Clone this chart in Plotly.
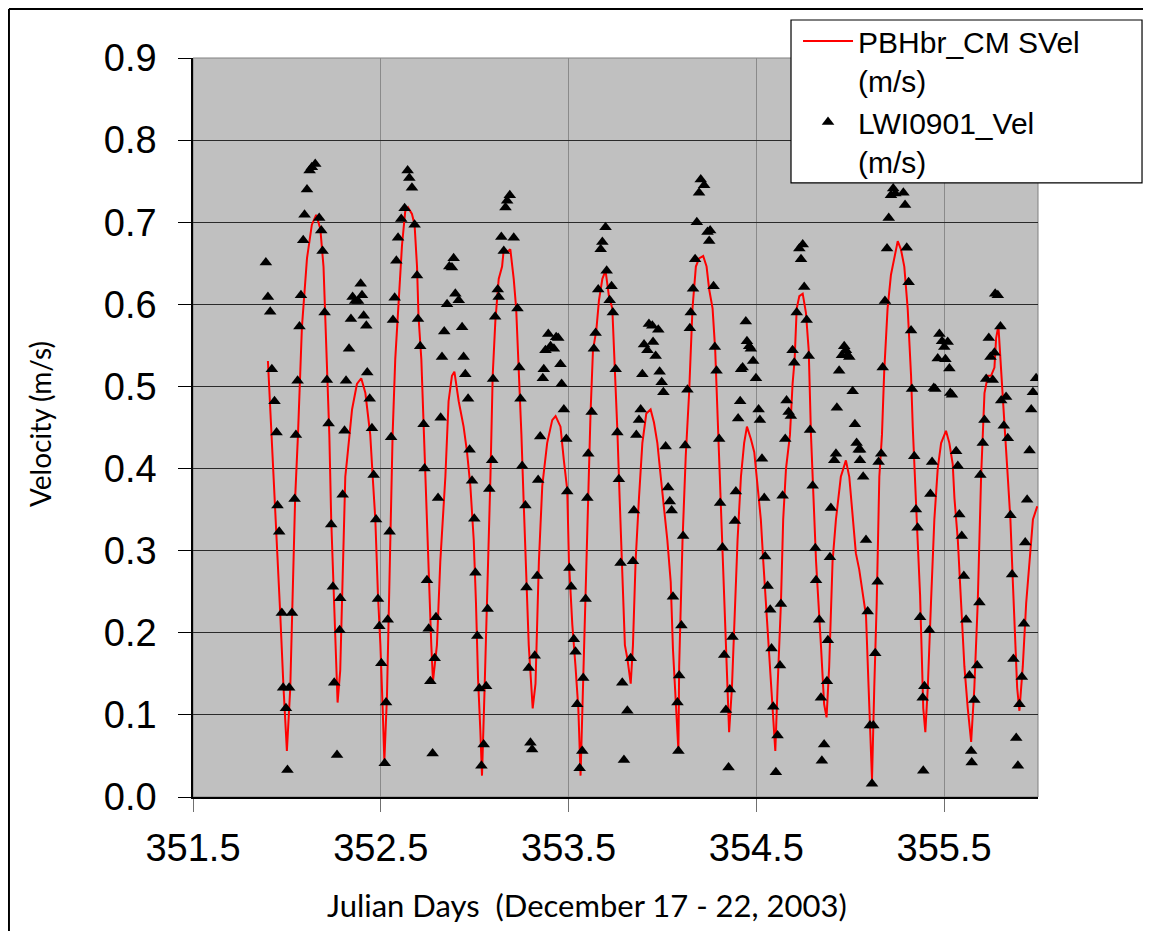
import plotly.graph_objects as go

# ---- data ----
line_day = [351.899, 351.938, 351.964, 351.982, 352.000, 352.018, 352.030, 352.044, 352.059, 352.080,
            352.107, 352.133, 352.156, 352.178, 352.195, 352.204, 352.213, 352.226, 352.236, 352.249,
            352.261, 352.270, 352.284, 352.297, 352.311, 352.320, 352.347, 352.373, 352.396, 352.418,
            352.444, 352.457, 352.471, 352.485, 352.498, 352.510, 352.519, 352.533, 352.551, 352.563,
            352.577, 352.595, 352.613, 352.630, 352.645, 352.666, 352.680, 352.693, 352.701, 352.716,
            352.728, 352.741, 352.755, 352.769, 352.778, 352.787, 352.799, 352.817, 352.844, 352.861,
            352.879, 352.892, 352.915, 352.941, 352.959, 352.977, 352.995, 353.007, 353.018, 353.030,
            353.039, 353.053, 353.066, 353.084, 353.096, 353.110, 353.128, 353.146, 353.155, 353.173,
            353.190, 353.208, 353.221, 353.235, 353.249, 353.261, 353.274, 353.288, 353.309, 353.324,
            353.342, 353.360, 353.386, 353.413, 353.431, 353.457, 353.475, 353.493, 353.502, 353.520,
            353.537, 353.552, 353.564, 353.576, 353.591, 353.603, 353.617, 353.630, 353.648, 353.662,
            353.680, 353.697, 353.715, 353.733, 353.747, 353.760, 353.772, 353.786, 353.800, 353.813,
            353.831, 353.843, 353.857, 353.875, 353.893, 353.914, 353.937, 353.955, 353.973, 353.991,
            354.008, 354.026, 354.044, 354.056, 354.085, 354.089, 354.107, 354.124, 354.142, 354.160,
            354.178, 354.195, 354.217, 354.235, 354.249, 354.267, 354.281, 354.293, 354.306, 354.320,
            354.334, 354.347, 354.355, 354.370, 354.382, 354.400, 354.418, 354.435, 354.450, 354.471,
            354.489, 354.507, 354.524, 354.537, 354.551, 354.569, 354.587, 354.601, 354.613, 354.631,
            354.643, 354.658, 354.679, 354.693, 354.704, 354.715, 354.729, 354.747, 354.764, 354.779,
            354.791, 354.803, 354.818, 354.844, 354.861, 354.874, 354.888, 354.906, 354.924, 354.950,
            354.977, 354.995, 355.013, 355.030, 355.048, 355.066, 355.084, 355.098, 355.110, 355.116,
            355.128, 355.141, 355.155, 355.169, 355.181, 355.199, 355.217, 355.235, 355.253, 355.270,
            355.288, 355.306, 355.324, 355.333, 355.347, 355.359, 355.372, 355.382, 355.389, 355.400,
            355.413, 355.430, 355.448, 355.466, 355.484, 355.510, 355.528, 355.546, 355.555, 355.573,
            355.590, 355.608, 355.626, 355.644, 355.661, 355.679, 355.697, 355.715, 355.733, 355.750,
            355.768, 355.777, 355.789, 355.804, 355.813, 355.825, 355.839, 355.853, 355.866, 355.878,
            355.889, 355.901, 355.919, 355.937, 355.955, 355.973, 355.996]
line_vel = [0.531, 0.354, 0.226, 0.133, 0.056, 0.133, 0.226, 0.364, 0.441, 0.572,
            0.656, 0.697, 0.709, 0.692, 0.646, 0.585, 0.508, 0.441, 0.338, 0.256,
            0.159, 0.115, 0.154, 0.287, 0.390, 0.410, 0.472, 0.503, 0.510, 0.492,
            0.441, 0.390, 0.338, 0.246, 0.185, 0.108, 0.044, 0.123, 0.323, 0.441,
            0.533, 0.605, 0.672, 0.713, 0.718, 0.710, 0.697, 0.646, 0.585, 0.533,
            0.451, 0.364, 0.262, 0.185, 0.141, 0.159, 0.185, 0.287, 0.390, 0.482,
            0.513, 0.518, 0.482, 0.451, 0.421, 0.379, 0.313, 0.236, 0.144, 0.082,
            0.026, 0.133, 0.236, 0.390, 0.513, 0.579, 0.631, 0.646, 0.667, 0.664,
            0.667, 0.631, 0.595, 0.523, 0.441, 0.359, 0.262, 0.185, 0.108, 0.138,
            0.287, 0.379, 0.431, 0.459, 0.464, 0.451, 0.410, 0.374, 0.287, 0.210,
            0.159, 0.108, 0.026, 0.133, 0.236, 0.364, 0.467, 0.544, 0.569, 0.605,
            0.631, 0.641, 0.610, 0.595, 0.523, 0.446, 0.364, 0.262, 0.185, 0.169,
            0.138, 0.185, 0.287, 0.364, 0.431, 0.467, 0.472, 0.456, 0.431, 0.390,
            0.354, 0.313, 0.262, 0.180, 0.056, 0.159, 0.313, 0.415, 0.492, 0.595,
            0.646, 0.656, 0.659, 0.646, 0.618, 0.595, 0.544, 0.467, 0.390, 0.297,
            0.210, 0.123, 0.079, 0.133, 0.210, 0.313, 0.390, 0.431, 0.451, 0.436,
            0.420, 0.379, 0.338, 0.287, 0.236, 0.169, 0.108, 0.056, 0.133, 0.236,
            0.338, 0.400, 0.441, 0.503, 0.533, 0.595, 0.610, 0.613, 0.590, 0.544,
            0.441, 0.364, 0.287, 0.185, 0.113, 0.097, 0.159, 0.287, 0.338, 0.390,
            0.410, 0.390, 0.338, 0.297, 0.277, 0.251, 0.221, 0.133, 0.056, 0.021,
            0.133, 0.236, 0.390, 0.441, 0.518, 0.595, 0.636, 0.656, 0.677, 0.667,
            0.646, 0.595, 0.513, 0.451, 0.364, 0.313, 0.246, 0.159, 0.108, 0.079,
            0.133, 0.236, 0.338, 0.400, 0.431, 0.446, 0.431, 0.405, 0.364, 0.313,
            0.236, 0.159, 0.108, 0.067, 0.133, 0.236, 0.390, 0.492, 0.513, 0.513,
            0.523, 0.559, 0.574, 0.513, 0.492, 0.441, 0.390, 0.338, 0.262, 0.185,
            0.133, 0.105, 0.159, 0.236, 0.287, 0.338, 0.354]

obs_day = [351.888, 351.899, 351.911, 351.920, 351.934, 351.945, 351.950, 351.959, 351.973, 351.980,
           351.995, 352.003, 352.012, 352.027, 352.041, 352.048, 352.057, 352.067, 352.075, 352.087,
           352.094, 352.107, 352.121, 352.133, 352.151, 352.172, 352.183, 352.190, 352.201, 352.213,
           352.222, 352.236, 352.245, 352.252, 352.267, 352.284, 352.281, 352.297, 352.307, 352.315,
           352.331, 352.341, 352.350, 352.364, 352.379, 352.393, 352.400, 352.409, 352.423, 352.428,
           352.441, 352.453, 352.462, 352.475, 352.485, 352.492, 352.503, 352.521, 352.528, 352.537,
           352.547, 352.555, 352.565, 352.574, 352.583, 352.592,
           352.609, 352.627, 352.643, 352.652, 352.666, 352.680, 352.693, 352.698, 352.710, 352.728,
           352.733, 352.746, 352.755, 352.764, 352.776, 352.787, 352.794, 352.805, 352.819, 352.826,
           352.838, 352.853, 352.865, 352.888, 352.879, 352.897, 352.915, 352.933, 352.941, 352.950,
           352.965, 352.973, 352.986, 352.998, 353.004, 353.014, 353.025, 353.036, 353.048, 353.061,
           353.069, 353.078, 353.093, 353.098, 353.109, 353.123, 353.128, 353.142, 353.155, 353.164,
           353.173, 353.187, 353.208, 353.228, 353.237, 353.244, 353.253, 353.270, 353.276, 353.288,
           353.297, 353.306, 353.320,
           353.333, 353.338, 353.349, 353.363, 353.368, 353.377, 353.392, 353.404, 353.422, 353.434,
           353.445, 353.457, 353.463, 353.475, 353.488, 353.493, 353.505, 353.514, 353.528, 353.537,
           353.546, 353.559, 353.573, 353.578, 353.591, 353.600, 353.605, 353.623, 353.635, 353.644,
           353.658, 353.671, 353.680, 353.697, 353.703, 353.719, 353.729, 353.736, 353.751, 353.760,
           353.768, 353.777, 353.786, 353.795, 353.813, 353.831, 353.843, 353.848, 353.861, 353.875,
           353.884, 353.893, 353.902, 353.920, 353.928, 353.946, 353.950, 353.964, 353.978, 353.985,
           353.996, 354.005, 354.017, 354.030, 354.039, 354.049, 354.056,
           354.080, 354.085, 354.089, 354.101, 354.110, 354.121, 354.133, 354.146, 354.151, 354.163,
           354.174, 354.183, 354.195, 354.204, 354.222, 354.240, 354.249, 354.254, 354.272, 354.279,
           354.288, 354.302, 354.307, 354.320, 354.329, 354.338, 354.352, 354.359, 354.373, 354.386,
           354.391, 354.403, 354.414, 354.419, 354.427, 354.444, 354.450, 354.462, 354.471, 354.483,
           354.498, 354.512, 354.519, 354.530, 354.542, 354.547, 354.560, 354.574, 354.581, 354.590,
           354.604, 354.613, 354.626, 354.631, 354.640, 354.654, 354.661, 354.672, 354.684, 354.693,
           354.702, 354.715, 354.729, 354.738, 354.747, 354.755, 354.768, 354.779, 354.786, 354.800,
           354.814, 354.818,
           354.835, 354.844, 354.849, 354.861, 354.876, 354.881, 354.892, 354.897, 354.915, 354.924,
           354.929, 354.941, 354.956, 354.968, 354.977, 354.986, 354.995, 355.013, 355.025, 355.034,
           355.045, 355.053, 355.052, 355.069, 355.084, 355.093, 355.105, 355.116, 355.123, 355.133,
           355.146, 355.151, 355.165, 355.173, 355.185, 355.196, 355.205, 355.217, 355.229, 355.240,
           355.283, 355.292, 355.301, 355.311, 355.324, 355.329, 355.341, 355.350, 355.359, 355.372,
           355.386, 355.395, 355.389, 355.421, 355.427, 355.436, 355.445, 355.453, 355.466, 355.475,
           355.489, 355.501, 355.507, 355.519, 355.528, 355.533, 355.542,
           355.564, 355.573, 355.581, 355.594, 355.605, 355.617, 355.635, 355.644, 355.647, 355.661,
           355.676, 355.688, 355.693, 355.706, 355.715, 355.724, 355.738, 355.747, 355.759, 355.768,
           355.772, 355.786, 355.800, 355.804, 355.818, 355.830, 355.839, 355.853, 355.862, 355.869,
           355.884, 355.893, 355.901, 355.914, 355.925, 355.932, 355.942, 355.955, 355.964, 355.973,
           355.990]
obs_vel = [0.651, 0.609, 0.591, 0.521, 0.482, 0.444, 0.355, 0.323, 0.224, 0.133,
           0.108, 0.033, 0.133, 0.224, 0.363, 0.441, 0.507, 0.573, 0.611, 0.678,
           0.709, 0.740, 0.763, 0.767, 0.771, 0.705, 0.690, 0.665, 0.590, 0.508,
           0.455, 0.332, 0.256, 0.139, 0.051, 0.242, 0.203, 0.368, 0.446, 0.507,
           0.546, 0.582, 0.609, 0.604, 0.604, 0.625, 0.611, 0.586, 0.574, 0.517,
           0.485, 0.449, 0.392, 0.338, 0.241, 0.208, 0.163, 0.041, 0.115, 0.216,
           0.323, 0.438, 0.581, 0.608, 0.653, 0.681,
           0.704, 0.717, 0.763, 0.754, 0.742, 0.697, 0.635, 0.582, 0.549, 0.454,
           0.400, 0.264, 0.205, 0.141, 0.053, 0.169, 0.219, 0.364, 0.462, 0.536,
           0.567, 0.600, 0.646, 0.656, 0.645, 0.613, 0.605, 0.572, 0.536, 0.515,
           0.485, 0.423, 0.385, 0.339, 0.273, 0.196, 0.132, 0.038, 0.064, 0.135,
           0.229, 0.375, 0.410, 0.509, 0.585, 0.618, 0.609, 0.682, 0.665, 0.718,
           0.726, 0.733, 0.681, 0.595, 0.523, 0.485, 0.403, 0.355, 0.255, 0.157,
           0.066, 0.058, 0.172,
           0.269, 0.386, 0.439, 0.510, 0.521, 0.544, 0.564, 0.549, 0.546, 0.560,
           0.559, 0.527, 0.503, 0.472, 0.436, 0.372, 0.279, 0.256, 0.192, 0.177,
           0.113, 0.035, 0.056, 0.145, 0.241, 0.364, 0.418, 0.469, 0.546, 0.565,
           0.618, 0.667, 0.676, 0.694, 0.641, 0.605, 0.622, 0.590, 0.521, 0.444,
           0.387, 0.285, 0.139, 0.045, 0.105, 0.169, 0.287, 0.349, 0.441, 0.459,
           0.472, 0.515, 0.551, 0.544, 0.576, 0.574, 0.554, 0.537, 0.569, 0.518,
           0.505, 0.493, 0.427, 0.377, 0.360, 0.349, 0.244,
           0.115, 0.056, 0.148, 0.209, 0.318, 0.428, 0.496, 0.571, 0.590, 0.619,
           0.655, 0.700, 0.736, 0.752, 0.745, 0.688, 0.677, 0.690, 0.622, 0.548,
           0.519, 0.436, 0.358, 0.304, 0.173, 0.106, 0.036, 0.131, 0.195, 0.336,
           0.372, 0.461, 0.482, 0.521, 0.523, 0.579, 0.555, 0.549, 0.546, 0.531,
           0.510, 0.472, 0.459, 0.412, 0.364, 0.293, 0.257, 0.228, 0.181, 0.110,
           0.030, 0.075, 0.160, 0.235, 0.367, 0.436, 0.483, 0.469, 0.464, 0.544,
           0.529, 0.590, 0.668, 0.655, 0.673, 0.621, 0.581, 0.537, 0.447, 0.379,
           0.303, 0.264,
           0.216, 0.121, 0.044, 0.064, 0.141, 0.191, 0.292, 0.352, 0.410, 0.418,
           0.474, 0.519, 0.538, 0.549, 0.544, 0.538, 0.536, 0.494, 0.454, 0.431,
           0.423, 0.423, 0.410, 0.390, 0.313, 0.226, 0.087, 0.016, 0.087, 0.175,
           0.262, 0.408, 0.418, 0.523, 0.604, 0.668, 0.705, 0.733, 0.741, 0.735,
           0.736, 0.721, 0.669, 0.627, 0.568, 0.497, 0.415, 0.350, 0.328, 0.219,
           0.121, 0.135, 0.032, 0.203, 0.369, 0.408, 0.498, 0.497, 0.534, 0.564,
           0.555, 0.548, 0.533, 0.554, 0.522, 0.492, 0.490,
           0.421, 0.403, 0.344, 0.318, 0.269, 0.216, 0.148, 0.056, 0.042, 0.118,
           0.160, 0.237, 0.392, 0.431, 0.459, 0.509, 0.559, 0.536, 0.508, 0.541,
           0.613, 0.611, 0.573, 0.483, 0.452, 0.487, 0.437, 0.343, 0.271, 0.168,
           0.072, 0.038, 0.113, 0.146, 0.211, 0.310, 0.362, 0.422, 0.472, 0.493,
           0.510]

x_ticks = [351.5, 352.5, 353.5, 354.5, 355.5]
y_ticks = [0.0, 0.1, 0.2, 0.3, 0.4, 0.5, 0.6, 0.7, 0.8, 0.9]

line_name = "PBHbr_CM SVel<br>(m/s)"
obs_name = "LWI0901_Vel<br>(m/s)"
x_title = "Julian Days \u00a0(December 17 - 22, 2003)"
y_title = "Velocity (m/s)"

ARIAL = "Arial, 'Liberation Sans', sans-serif"
TITLEF = "Lato, Carlito, Calibri, sans-serif"

fig = go.Figure()
fig.add_trace(go.Scatter(x=line_day, y=line_vel, mode="lines", name=line_name,
                         line=dict(color="#ff0000", width=2)))
fig.add_trace(go.Scatter(x=obs_day, y=obs_vel, mode="markers", name=obs_name,
                         marker=dict(symbol="triangle-up", size=11, color="black")))

# page body has an 8px margin: the figure is sized so that it fits the window exactly
fig.update_layout(
    width=1135, height=923, autosize=False,
    margin=dict(l=185, r=105, t=50, b=134, autoexpand=False),
    paper_bgcolor="white", plot_bgcolor="#c0c0c0",
    font=dict(family=ARIAL, color="black"),
    showlegend=True,
    legend=dict(x=0.716, y=1.0581, xanchor="left", yanchor="top",
                bgcolor="rgba(0,0,0,0)", borderwidth=0,
                font=dict(family=ARIAL, size=30, color="black"),
                valign="top", tracegroupgap=0, itemwidth=50),
)
fig.update_xaxes(range=[351.5, 356.0], tickvals=x_ticks, tickformat=".1f",
                 showgrid=True, gridcolor="#8a8a8a", gridwidth=1,
                 showline=True, linecolor="black", linewidth=1.5,
                 ticks="outside", ticklen=13, tickcolor="#707070", tickwidth=1,
                 tickfont=dict(family=ARIAL, size=38, color="black"),
                 ticklabelstandoff=4, zeroline=False)
fig.update_yaxes(range=[0, 0.9], tickvals=y_ticks, tickformat=".1f",
                 showgrid=True, gridcolor="#2a2a2a", gridwidth=1.2,
                 showline=True, linecolor="black", linewidth=1.5,
                 ticks="outside", ticklen=13, tickcolor="black", tickwidth=1,
                 tickfont=dict(family=ARIAL, size=38, color="black"),
                 ticklabelstandoff=14, zeroline=False)

# plot-area outline (gray), legend box, and outer frame lines
fig.add_shape(type="rect", xref="paper", yref="paper", x0=0, x1=1, y0=0, y1=1,
              line=dict(color="#808080", width=1), layer="below")
fig.add_shape(type="rect", xref="paper", yref="paper", x0=0.7077, x1=1.1231, y0=0.8309, y1=1.0514,
              line=dict(color="black", width=1.2), fillcolor="white", layer="above")
fig.add_shape(type="line", xref="paper", yref="paper", x0=-0.2178, x1=1.2, y0=1.0663, y1=1.0663,
              line=dict(color="black", width=2))
fig.add_shape(type="line", xref="paper", yref="paper", x0=-0.2178, x1=-0.2178, y0=-0.2, y1=1.0663,
              line=dict(color="black", width=2))

fig.add_annotation(text=x_title, xref="paper", yref="paper", x=0.4663, y=-0.1461,
                   showarrow=False, xanchor="center", yanchor="middle",
                   font=dict(family=TITLEF, size=31, color="black"))
fig.add_annotation(text=y_title, xref="paper", yref="paper", x=-0.181, y=0.5047,
                   showarrow=False, xanchor="center", yanchor="middle", textangle=-90,
                   font=dict(family=TITLEF, size=28, color="black"))

fig.write_html("out.html")
